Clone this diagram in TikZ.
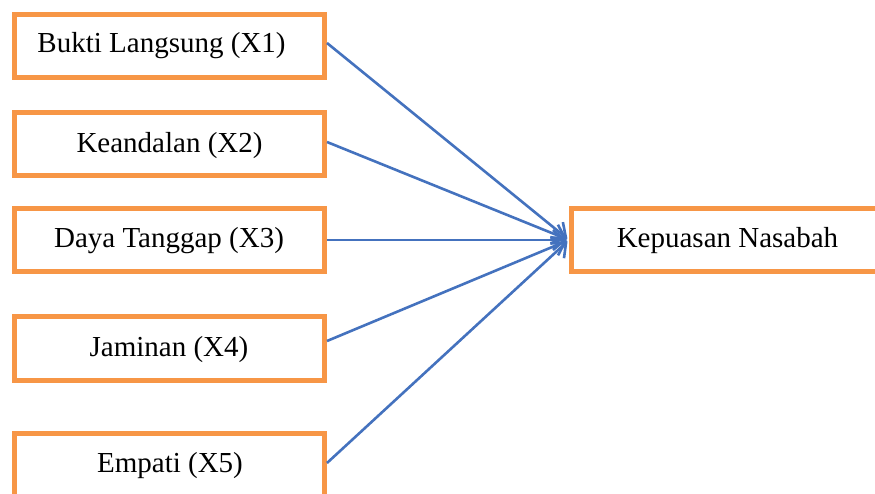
\documentclass[tikz,border=0pt]{standalone}
\usepackage{fontspec}
\setmainfont{Liberation Serif}
\usetikzlibrary{arrows.meta,calc}
\definecolor{boxorange}{RGB}{247,150,70}
\definecolor{arrowblue}{RGB}{68,114,190}
\begin{document}
\begin{tikzpicture}[x=1pt,y=-1pt,
  box/.style={draw=boxorange,line width=5pt,fill=white,rectangle,inner sep=0pt},
  lbl/.style={anchor=base,inner sep=0pt,font=\fontsize{29}{34}\selectfont},
  link/.style={draw=arrowblue,line width=2.6pt,shorten >=2pt,-{Straight Barb[length=12pt,width=20pt,line width=2.6pt]}}]
\useasboundingbox (0,0) rectangle (875,494);
\clip (0,0) rectangle (875,494);
% boxes (centre-line coordinates)
\node[box,minimum width=310pt,minimum height=63pt] (b1) at (169.5,46) {};
\node[box,minimum width=310pt,minimum height=63pt] (b2) at (169.5,144) {};
\node[box,minimum width=310pt,minimum height=63pt] (b3) at (169.5,240) {};
\node[box,minimum width=310pt,minimum height=64pt] (b4) at (169.5,348.5) {};
\node[box,minimum width=310pt,minimum height=63pt] (b5) at (169.5,465) {};
\node[box,minimum width=313pt,minimum height=63pt] (r) at (728,240) {};
% labels
\node[lbl] (t1) at (161.5,53) {Bukti Langsung (X1)};
\node[lbl] (t2) at (169.5,153) {Keandalan (X2)};
\node[lbl] (t3) at (169,248) {Daya Tanggap (X3)};
\node[lbl] (t4) at (169,356) {Jaminan (X4)};
\node[lbl] (t5) at (170,472) {Empati (X5)};
\node[lbl] (tr) at (727.5,248) {Kepuasan Nasabah};
% connectors
\draw[link] ($(b1.east)+(0,-3)$) -- (r.west);
\draw[link] ($(b2.east)+(0,-2)$) -- (r.west);
\draw[link] (b3.east) -- (r.west);
\draw[link] ($(b4.east)+(0,-7.5)$) -- (r.west);
\draw[link] ($(b5.east)+(0,-2)$) -- (r.west);
\end{tikzpicture}
\end{document}
